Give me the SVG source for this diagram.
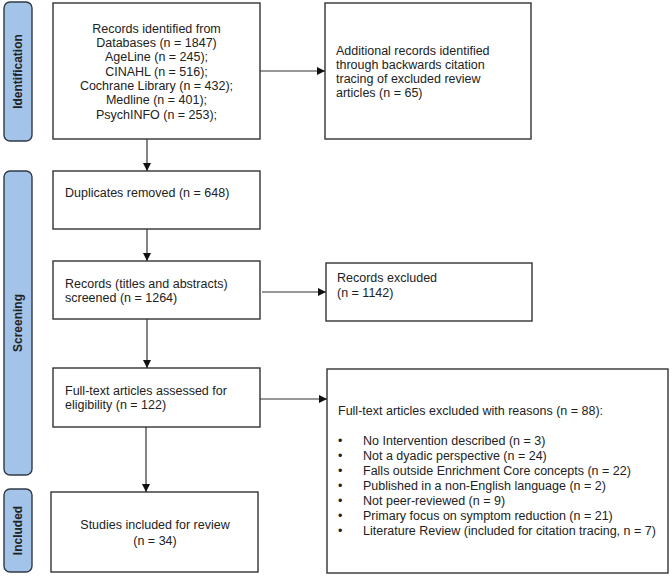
<svg xmlns="http://www.w3.org/2000/svg" width="672" height="577" viewBox="0 0 672 577">
<defs>
<style>
.box{fill:#fff;stroke:#333;stroke-width:1.4}
.lab{fill:#a3c4e8;stroke:#2f3a45;stroke-width:1.4}
.t{font-family:"Liberation Sans",Arial,sans-serif;font-size:12.5px;fill:#222}
.c{text-anchor:middle}
.lt{font-family:"Liberation Sans",Arial,sans-serif;font-size:12px;font-weight:bold;fill:#222;text-anchor:middle}
.ln{stroke:#333;stroke-width:1.2;fill:none}
</style>
<marker id="ah" viewBox="0 0 10 10" refX="10" refY="5" markerWidth="8" markerHeight="8" markerUnits="userSpaceOnUse" orient="auto">
<path d="M0,0 L10,5 L0,10 z" fill="#111"/>
</marker>
</defs>
<rect width="672" height="577" fill="#fff"/>
<g id="label-identification">
<rect class="lab" x="4" y="2" width="28" height="139" rx="6"/>
<text class="lt" transform="translate(22,71.5) rotate(-90)">Identification</text>
</g>
<g id="label-screening">
<rect class="lab" x="4" y="171" width="28" height="304" rx="6"/>
<text class="lt" transform="translate(22,323) rotate(-90)">Screening</text>
</g>
<g id="label-included">
<rect class="lab" x="4" y="489" width="28" height="83" rx="6"/>
<text class="lt" transform="translate(22,530.5) rotate(-90)">Included</text>
</g>
<g id="records-identified">
<rect class="box" x="53" y="3" width="207" height="136"/>
<text class="t c" x="156.5" y="33">Records identified from</text>
<text class="t c" x="156.5" y="47">Databases (n = 1847)</text>
<text class="t c" x="156.5" y="61">AgeLine (n = 245);</text>
<text class="t c" x="156.5" y="76">CINAHL (n = 516);</text>
<text class="t c" x="156.5" y="90">Cochrane Library (n = 432);</text>
<text class="t c" x="156.5" y="104">Medline (n = 401);</text>
<text class="t c" x="156.5" y="119">PsychINFO (n = 253);</text>
</g>
<g id="additional-records">
<rect class="box" x="325" y="3" width="206" height="136"/>
<text class="t" x="336" y="55">Additional records identified</text>
<text class="t" x="336" y="69">through backwards citation</text>
<text class="t" x="336" y="83">tracing of excluded review</text>
<text class="t" x="336" y="97">articles (n = 65)</text>
</g>
<g id="duplicates">
<rect class="box" x="53" y="171" width="207" height="58"/>
<text class="t" x="65" y="197">Duplicates removed (n = 648)</text>
</g>
<g id="screened">
<rect class="box" x="53" y="261" width="207" height="58"/>
<text class="t" x="65" y="288">Records (titles and abstracts)</text>
<text class="t" x="65" y="302">screened (n = 1264)</text>
</g>
<g id="excluded">
<rect class="box" x="326" y="263" width="206" height="58"/>
<text class="t" x="337" y="282">Records excluded</text>
<text class="t" x="337" y="297">(n = 1142)</text>
</g>
<g id="fulltext">
<rect class="box" x="53" y="368" width="207" height="59"/>
<text class="t" x="65" y="395">Full-text articles assessed for</text>
<text class="t" x="65" y="409">eligibility (n = 122)</text>
</g>
<g id="fulltext-excluded">
<rect class="box" x="327" y="369" width="341" height="204"/>
<text class="t" x="338" y="415">Full-text articles excluded with reasons (n = 88):</text>
<g class="t">
<text x="338" y="445">•</text><text x="363" y="445">No Intervention described (n = 3)</text>
<text x="338" y="460">•</text><text x="363" y="460">Not a dyadic perspective (n = 24)</text>
<text x="338" y="475">•</text><text x="363" y="475">Falls outside Enrichment Core concepts (n = 22)</text>
<text x="338" y="490">•</text><text x="363" y="490">Published in a non-English language (n = 2)</text>
<text x="338" y="505">•</text><text x="363" y="505">Not peer-reviewed (n = 9)</text>
<text x="338" y="520">•</text><text x="363" y="520">Primary focus on symptom reduction (n = 21)</text>
<text x="338" y="535">•</text><text x="363" y="535">Literature Review (included for citation tracing, n = 7)</text>
</g>
</g>
<g id="included">
<rect class="box" x="51" y="492" width="207" height="80"/>
<text class="t c" x="155" y="529">Studies included for review</text>
<text class="t c" x="155" y="545">(n = 34)</text>
</g>
<g id="connectors">
<line class="ln" x1="260" y1="71" x2="325" y2="71" marker-end="url(#ah)"/>
<line class="ln" x1="147" y1="139" x2="147" y2="171" marker-end="url(#ah)"/>
<line class="ln" x1="147" y1="229" x2="147" y2="261" marker-end="url(#ah)"/>
<line class="ln" x1="262" y1="292" x2="326" y2="292" marker-end="url(#ah)"/>
<line class="ln" x1="147" y1="319" x2="147" y2="368" marker-end="url(#ah)"/>
<line class="ln" x1="260" y1="399" x2="327" y2="399" marker-end="url(#ah)"/>
<line class="ln" x1="146" y1="427" x2="146" y2="492" marker-end="url(#ah)"/>
</g>
</svg>
